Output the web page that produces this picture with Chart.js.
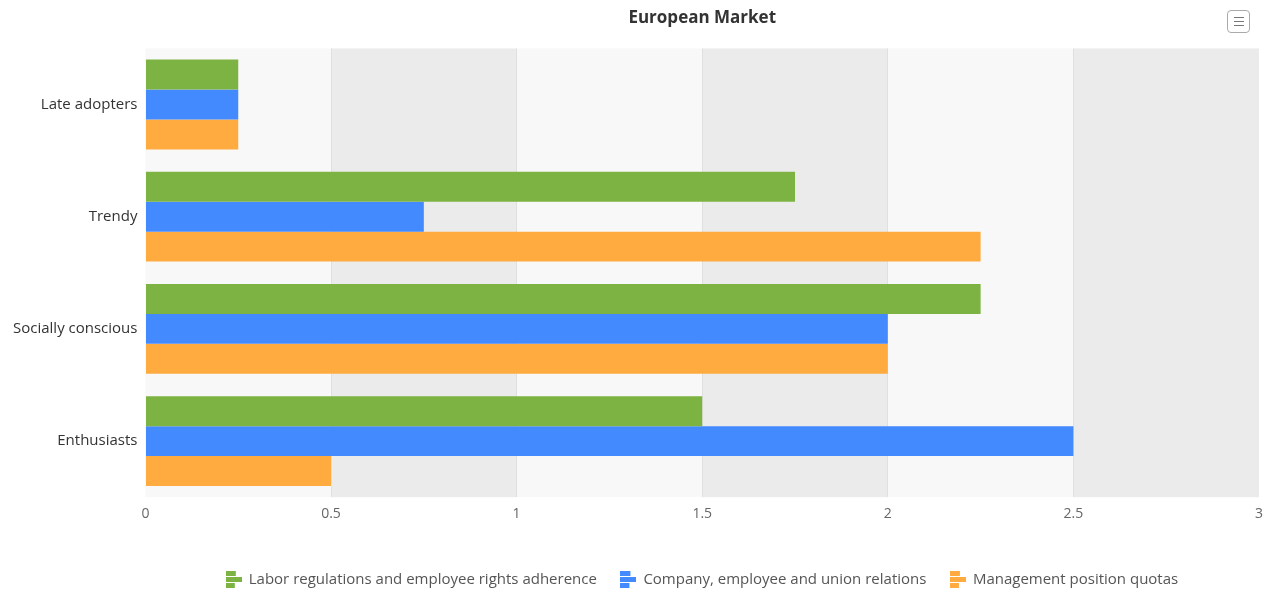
<!DOCTYPE html>
<html>
<head>
<meta charset="utf-8">
<script src="https://cdn.jsdelivr.net/npm/chart.js@4/dist/chart.umd.min.js"></script>
<style>
  html, body { margin: 0; padding: 0; background: #fff; }
  #wrap { position: relative; width: 1276px; height: 594px; }
  #menu {
    position: absolute; left: 1227px; top: 10px; width: 23px; height: 23px;
    border: 1px solid #aaa; border-radius: 4px; box-sizing: border-box;
  }
  #menu span { position: absolute; left: 6px; width: 10px; height: 1px; background: #777; }
</style>
</head>
<body>
<div id="wrap">
  <canvas id="myChart" width="1276" height="594"></canvas>
  <div id="menu"><span style="top:6px"></span><span style="top:10px"></span><span style="top:14px"></span></div>
</div>
<script>
// data
var categories = ["Late adopters", "Trendy", "Socially conscious", "Enthusiasts"];
var seriesNames = [
  "Labor regulations and employee rights adherence",
  "Company, employee and union relations",
  "Management position quotas"
];
var laborValues = [0.25, 1.75, 2.25, 1.5];
var companyValues = [0.25, 0.75, 2, 2.5];
var quotaValues = [0.25, 2.25, 2, 0.5];
var seriesColors = ["#7cb342", "#448aff", "#ffab40"];

var fontFamily = "'Open Sans', 'Noto Sans', sans-serif";

// little bar icon for the legend
function legendIcon(color) {
  var c = document.createElement("canvas");
  c.width = 16;
  c.height = 17;
  var g = c.getContext("2d");
  g.fillStyle = color;
  g.fillRect(0, 0, 10, 5);
  g.fillRect(0, 6, 16, 5);
  g.fillRect(0, 12, 9, 5);
  return c;
}

// alternating grey bands behind the bars
var bandsPlugin = {
  id: "bands",
  beforeDraw: function (chart) {
    var ctx = chart.ctx;
    var area = chart.chartArea;
    var x = chart.scales.x;
    var ticks = x.ticks;
    ctx.save();
    for (var i = 0; i < ticks.length - 1; i++) {
      var a = x.getPixelForValue(ticks[i].value);
      var b = x.getPixelForValue(ticks[i + 1].value);
      ctx.fillStyle = i % 2 === 0 ? "#f8f8f8" : "#ebebeb";
      ctx.fillRect(a, area.top, b - a, area.bottom - area.top);
    }
    ctx.restore();
  }
};

var ctx = document.getElementById("myChart").getContext("2d");
var chart = new Chart(ctx, {
  type: "bar",
  data: {
    labels: categories,
    datasets: [
      { label: seriesNames[0], data: laborValues, backgroundColor: seriesColors[0], pointStyle: legendIcon(seriesColors[0]) },
      { label: seriesNames[1], data: companyValues, backgroundColor: seriesColors[1], pointStyle: legendIcon(seriesColors[1]) },
      { label: seriesNames[2], data: quotaValues, backgroundColor: seriesColors[2], pointStyle: legendIcon(seriesColors[2]) }
    ]
  },
  options: {
    indexAxis: "y",
    responsive: false,
    animation: false,
    layout: { padding: { left: 13, right: 17, top: 5, bottom: -3 } },
    datasets: { bar: { categoryPercentage: 0.8, barPercentage: 1.0 } },
    scales: {
      x: {
        min: 0,
        max: 3,
        ticks: {
          stepSize: 0.5,
          color: "#666",
          font: { family: fontFamily, size: 14 },
          padding: 8,
          callback: function (v) { return String(v); }
        },
        grid: {
          color: function (c) {
            return c.index === 0 || c.tick.value === 3 ? "rgba(0,0,0,0)" : "#e0e0e0";
          },
          drawTicks: false
        },
        border: { display: false },
        afterFit: function (scale) { scale.height += 18; }
      },
      y: {
        ticks: { color: "#333", font: { family: fontFamily, size: 15 }, padding: 0 },
        grid: { display: false },
        border: { display: false }
      }
    },
    plugins: {
      title: {
        display: true,
        text: "European Market",
        fullSize: false,
        color: "#333",
        font: { family: fontFamily, size: 17, weight: "bold" },
        padding: { top: 3, bottom: 20 }
      },
      legend: {
        position: "bottom",
        fullSize: false,
        labels: {
          usePointStyle: true,
          color: "#555",
          font: { family: fontFamily, size: 15 },
          padding: 24
        }
      },
      tooltip: { enabled: false }
    }
  },
  plugins: [bandsPlugin]
});
</script>
</body>
</html>
